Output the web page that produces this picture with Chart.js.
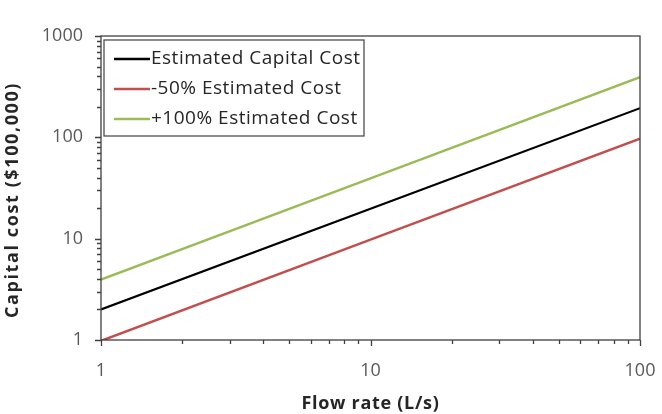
<!DOCTYPE html>
<html>
<head>
<meta charset="utf-8">
<script src="https://cdn.jsdelivr.net/npm/chart.js@4.4.0/dist/chart.umd.min.js"></script>
<style>
    html, body { margin: 0; padding: 0; background: #fff; }
    #wrap { width: 662px; height: 414px; }
</style>
</head>
<body>
<div id="wrap"><canvas id="costChart"></canvas></div>
<script>
// data
var flowRate = [1, 10, 100];
var estimatedCost = [2.0, 19.7, 194];
var minus50Cost = [0.98, 9.8, 97];
var plus100Cost = [3.95, 39.4, 392];
var seriesLabels = ['Estimated Capital Cost', '-50% Estimated Cost', '+100% Estimated Cost'];
var seriesColors = ['#000000', '#c0504d', '#9bbb59'];
var xTickLabels = [1, 10, 100];
var yTickLabels = [1, 10, 100, 1000];
var xTitle = 'Flow rate (L/s)';
var yTitle = 'Capital cost ($100,000)';

var fontFamily = '"Open Sans", "Noto Sans", sans-serif';

function toPoints(ys) {
    var pts = [];
    for (let i = 0; i < flowRate.length; i++) {
        pts.push({ x: flowRate[i], y: ys[i] });
    }
    return pts;
}

// 1..9 in every decade, majors at powers of ten
function logTicks(scale) {
    var ticks = [];
    var lo = Math.round(Math.log10(scale.min));
    var hi = Math.round(Math.log10(scale.max));
    for (let e = lo; e <= hi; e++) {
        for (let k = 1; k <= 9; k++) {
            if (e == hi && k > 1) break;
            ticks.push({ value: k * Math.pow(10, e), major: k == 1 });
        }
    }
    scale.ticks = ticks;
}

function labelFor(list) {
    return function (value) {
        return list.indexOf(value) >= 0 ? String(value) : '';
    };
}

// plot frame + outward tick marks
var framePlugin = {
    id: 'frame',
    afterDraw: function (chart) {
        var ctx = chart.ctx;
        var a = chart.chartArea;
        var xs = chart.scales.x;
        var ys = chart.scales.y;
        ctx.save();
        ctx.strokeStyle = '#404040';
        ctx.lineWidth = 1.3;
        ctx.strokeRect(a.left, a.top, a.right - a.left, a.bottom - a.top);
        ctx.beginPath();
        xs.ticks.forEach(function (t) {
            var px = Math.round(xs.getPixelForValue(t.value)) + 0.5;
            ctx.moveTo(px, a.bottom);
            ctx.lineTo(px, a.bottom + (t.major ? 6 : 4));
        });
        ys.ticks.forEach(function (t) {
            var py = Math.round(ys.getPixelForValue(t.value)) + 0.5;
            ctx.moveTo(a.left, py);
            ctx.lineTo(a.left - (t.major ? 6 : 4), py);
        });
        ctx.stroke();
        ctx.restore();
    }
};

// axis titles (drawn here so the letter spacing can follow the original)
var axisTitlePlugin = {
    id: 'axisTitles',
    afterDraw: function (chart) {
        var ctx = chart.ctx;
        var a = chart.chartArea;
        ctx.save();
        ctx.fillStyle = '#262626';
        ctx.textAlign = 'center';
        ctx.textBaseline = 'middle';
        ctx.font = 'bold 18px ' + fontFamily;
        ctx.letterSpacing = '0.7px';
        ctx.fillText(xTitle, (a.left + a.right) / 2, chart.height - 10);
        ctx.letterSpacing = '1.6px';
        ctx.translate(13, (a.top + a.bottom) / 2 + 12);
        ctx.rotate(-Math.PI / 2);
        ctx.fillText(yTitle, 0, 0);
        ctx.restore();
    }
};

// boxed legend inside the plot, top left
var boxLegendPlugin = {
    id: 'boxLegend',
    afterDraw: function (chart) {
        var ctx = chart.ctx;
        var a = chart.chartArea;
        var x0 = a.left + 3;
        var y0 = a.top + 4;
        var w = 260;
        var h = 96;
        ctx.save();
        ctx.fillStyle = '#ffffff';
        ctx.fillRect(x0, y0, w, h);
        ctx.strokeStyle = '#404040';
        ctx.lineWidth = 1.2;
        ctx.strokeRect(x0, y0, w, h);
        ctx.font = '19px ' + fontFamily;
        ctx.letterSpacing = '0.5px';
        ctx.textBaseline = 'middle';
        chart.data.datasets.forEach(function (ds, i) {
            var cy = y0 + 19 + i * 30;
            ctx.strokeStyle = ds.borderColor;
            ctx.lineWidth = 2.5;
            ctx.beginPath();
            ctx.moveTo(x0 + 10, cy);
            ctx.lineTo(x0 + 46, cy);
            ctx.stroke();
            ctx.fillStyle = '#262626';
            ctx.fillText(ds.label, x0 + 47, cy);
        });
        ctx.restore();
    }
};

const ctx = document.getElementById('costChart');

const data = {
    datasets: [
        { label: seriesLabels[0], data: toPoints(estimatedCost), borderColor: seriesColors[0], borderWidth: 2.2 },
        { label: seriesLabels[1], data: toPoints(minus50Cost), borderColor: seriesColors[1], borderWidth: 2.5 },
        { label: seriesLabels[2], data: toPoints(plus100Cost), borderColor: seriesColors[2], borderWidth: 2.5 }
    ]
};

const config = {
    type: 'line',
    data: data,
    plugins: [framePlugin, axisTitlePlugin, boxLegendPlugin],
    options: {
        responsive: true,
        maintainAspectRatio: false,
        animation: false,
        events: [],
        elements: { point: { radius: 0 }, line: { tension: 0 } },
        layout: { padding: { top: 36, right: 22, left: 0, bottom: 0 } },
        plugins: { legend: { display: false }, tooltip: { enabled: false } },
        scales: {
            x: {
                type: 'logarithmic',
                position: 'bottom',
                min: 1,
                max: 100,
                afterBuildTicks: logTicks,
                afterFit: function (s) { s.height = 74; s.paddingRight = 0; s.paddingLeft = 0; },
                grid: { display: false, drawTicks: false },
                border: { display: false },
                ticks: {
                    callback: labelFor(xTickLabels),
                    autoSkip: false,
                    maxRotation: 0,
                    padding: 20,
                    color: '#595959',
                    font: { family: fontFamily, size: 18 }
                },
                title: { display: false }
            },
            y: {
                type: 'logarithmic',
                min: 1,
                max: 1000,
                afterBuildTicks: logTicks,
                afterFit: function (s) { s.width = 101; },
                grid: { display: false, drawTicks: false },
                border: { display: false },
                ticks: {
                    callback: labelFor(yTickLabels),
                    autoSkip: false,
                    padding: 18,
                    color: '#595959',
                    font: { family: fontFamily, size: 18 }
                },
                title: { display: false }
            }
        }
    }
};

const costChart = new Chart(ctx, config);
</script>
</body>
</html>
